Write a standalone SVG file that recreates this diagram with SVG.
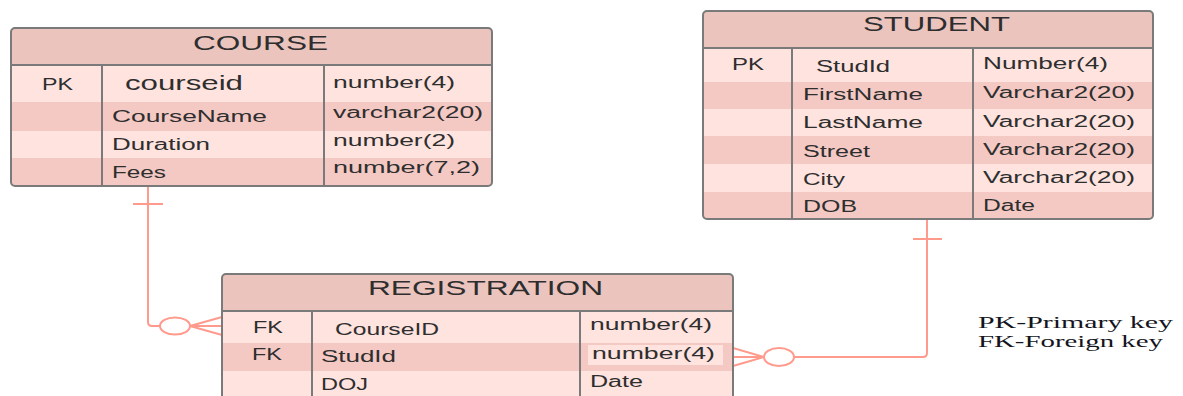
<svg xmlns="http://www.w3.org/2000/svg" width="1183" height="396" viewBox="0 0 1183 396">
  <style>
    .hd { fill: #ebc4be; }
    .lt { fill: #fee3df; }
    .dk { fill: #f4c9c4; }
    .frame { fill: none; stroke: #7a7a7a; stroke-width: 2; }
    .sep { stroke: #7a7a7a; stroke-width: 2; fill: none; }
    .t { font-family: "Liberation Sans", Arial, sans-serif; font-size: 16px; fill: #2e2e2e; }
    .ttl { font-family: "Liberation Sans", Arial, sans-serif; font-size: 21px; fill: #2e2e2e; }
    .big { font-size: 21px; }
    .conn { fill: none; stroke: #ff9a8c; stroke-width: 2; }
    .legend { font-family: "Liberation Serif", "Times New Roman", serif; font-size: 16px; fill: #141420; }
  </style>
  <defs>
    <clipPath id="clipCourse"><rect x="11" y="28" width="481" height="158" rx="4"/></clipPath>
    <clipPath id="clipStudent"><rect x="703" y="11" width="450" height="208" rx="4"/></clipPath>
    <clipPath id="clipReg"><rect x="222" y="274" width="511" height="140" rx="4"/></clipPath>
  </defs>

  <rect width="1183" height="396" fill="#ffffff"/>

  <!-- relationship lines -->
  <g id="connectors">
    <!-- COURSE (one) to REGISTRATION (zero or many) -->
    <path class="conn" d="M148,186 V322 Q148,326 152,326 H160"/>
    <path class="conn" d="M133,204 H163"/>
    <ellipse class="conn" cx="175" cy="326" rx="15" ry="8.5"/>
    <path class="conn" d="M190,326 L222,317 M190,326 H222 M190,326 L222,335"/>
    <!-- STUDENT (one) to REGISTRATION (zero or many) -->
    <path class="conn" d="M927,219 V353 Q927,357 923,357 H794"/>
    <path class="conn" d="M913,239 H942"/>
    <ellipse class="conn" cx="779" cy="357" rx="15" ry="9"/>
    <path class="conn" d="M764,357 L733,348 M764,357 H733 M764,357 L733,366"/>
  </g>

  <!-- COURSE table -->
  <g id="course">
    <g clip-path="url(#clipCourse)">
      <rect class="hd" x="11" y="28" width="481" height="37"/>
      <rect class="lt" x="11" y="65" width="481" height="37"/>
      <rect class="dk" x="11" y="102" width="481" height="29"/>
      <rect class="lt" x="11" y="131" width="481" height="27"/>
      <rect class="dk" x="11" y="158" width="481" height="28"/>
    </g>
    <path class="sep" d="M11,65 H492 M102,65 V186 M324,65 V186"/>
    <rect class="frame" x="11" y="28" width="481" height="158" rx="4"/>
    <text class="ttl" x="193" y="50" textLength="135" lengthAdjust="spacingAndGlyphs">COURSE</text>
    <text class="t" x="42" y="90" textLength="31" lengthAdjust="spacingAndGlyphs">PK</text>
    <text class="t big" x="125" y="90" textLength="118" lengthAdjust="spacingAndGlyphs">courseid</text>
    <text class="t" x="333" y="88" textLength="122" lengthAdjust="spacingAndGlyphs">number(4)</text>
    <text class="t" x="112" y="122" textLength="155" lengthAdjust="spacingAndGlyphs">CourseName</text>
    <text class="t" x="333" y="118" textLength="150" lengthAdjust="spacingAndGlyphs">varchar2(20)</text>
    <text class="t" x="112" y="150" textLength="98" lengthAdjust="spacingAndGlyphs">Duration</text>
    <text class="t" x="333" y="146" textLength="122" lengthAdjust="spacingAndGlyphs">number(2)</text>
    <text class="t" x="112" y="178" textLength="54" lengthAdjust="spacingAndGlyphs">Fees</text>
    <text class="t" x="333" y="173" textLength="147" lengthAdjust="spacingAndGlyphs">number(7,2)</text>
  </g>

  <!-- STUDENT table -->
  <g id="student">
    <g clip-path="url(#clipStudent)">
      <rect class="hd" x="703" y="11" width="450" height="37"/>
      <rect class="lt" x="703" y="48" width="450" height="34"/>
      <rect class="dk" x="703" y="82" width="450" height="27"/>
      <rect class="lt" x="703" y="109" width="450" height="27"/>
      <rect class="dk" x="703" y="136" width="450" height="28"/>
      <rect class="lt" x="703" y="164" width="450" height="28"/>
      <rect class="dk" x="703" y="192" width="450" height="27"/>
    </g>
    <path class="sep" d="M703,48 H1153 M792,48 V219 M973,48 V219"/>
    <rect class="frame" x="703" y="11" width="450" height="208" rx="4"/>
    <text class="ttl" x="863" y="31" textLength="147" lengthAdjust="spacingAndGlyphs">STUDENT</text>
    <text class="t" x="732" y="70" textLength="32" lengthAdjust="spacingAndGlyphs">PK</text>
    <text class="t" x="816" y="72" textLength="74" lengthAdjust="spacingAndGlyphs">StudId</text>
    <text class="t" x="983" y="69" textLength="125" lengthAdjust="spacingAndGlyphs">Number(4)</text>
    <text class="t" x="803" y="100" textLength="120" lengthAdjust="spacingAndGlyphs">FirstName</text>
    <text class="t" x="983" y="98" textLength="152" lengthAdjust="spacingAndGlyphs">Varchar2(20)</text>
    <text class="t" x="803" y="128" textLength="120" lengthAdjust="spacingAndGlyphs">LastName</text>
    <text class="t" x="983" y="127" textLength="152" lengthAdjust="spacingAndGlyphs">Varchar2(20)</text>
    <text class="t" x="803" y="157" textLength="67" lengthAdjust="spacingAndGlyphs">Street</text>
    <text class="t" x="983" y="155" textLength="152" lengthAdjust="spacingAndGlyphs">Varchar2(20)</text>
    <text class="t" x="803" y="185" textLength="42" lengthAdjust="spacingAndGlyphs">City</text>
    <text class="t" x="983" y="183" textLength="152" lengthAdjust="spacingAndGlyphs">Varchar2(20)</text>
    <text class="t" x="803" y="212" textLength="54" lengthAdjust="spacingAndGlyphs">DOB</text>
    <text class="t" x="983" y="211" textLength="52" lengthAdjust="spacingAndGlyphs">Date</text>
  </g>

  <!-- REGISTRATION table (runs past the lower edge) -->
  <g id="registration">
    <g clip-path="url(#clipReg)">
      <rect class="hd" x="222" y="274" width="511" height="37"/>
      <rect class="lt" x="222" y="311" width="511" height="32"/>
      <rect class="dk" x="222" y="343" width="511" height="28"/>
      <rect class="lt" x="222" y="371" width="511" height="43"/>
      <rect class="lt" x="588" y="345" width="135" height="20"/>
    </g>
    <path class="sep" d="M222,311 H733 M312,311 V414 M580,311 V414"/>
    <rect class="frame" x="222" y="274" width="511" height="140" rx="4"/>
    <text class="ttl" x="368" y="295" textLength="235" lengthAdjust="spacingAndGlyphs">REGISTRATION</text>
    <text class="t" x="253" y="333" textLength="30" lengthAdjust="spacingAndGlyphs">FK</text>
    <text class="t" x="335" y="335" textLength="104" lengthAdjust="spacingAndGlyphs">CourseID</text>
    <text class="t" x="590" y="330" textLength="122" lengthAdjust="spacingAndGlyphs">number(4)</text>
    <text class="t" x="252" y="360" textLength="30" lengthAdjust="spacingAndGlyphs">FK</text>
    <text class="t" x="321" y="362" textLength="75" lengthAdjust="spacingAndGlyphs">StudId</text>
    <text class="t" x="592" y="359" textLength="123" lengthAdjust="spacingAndGlyphs">number(4)</text>
    <text class="t" x="321" y="390" textLength="47" lengthAdjust="spacingAndGlyphs">DOJ</text>
    <text class="t" x="590" y="387" textLength="53" lengthAdjust="spacingAndGlyphs">Date</text>
  </g>

  <!-- key legend -->
  <g id="legend">
    <text class="legend" x="978" y="328" textLength="195" lengthAdjust="spacingAndGlyphs">PK-Primary key</text>
    <text class="legend" x="978" y="347" textLength="185" lengthAdjust="spacingAndGlyphs">FK-Foreign key</text>
  </g>
</svg>
